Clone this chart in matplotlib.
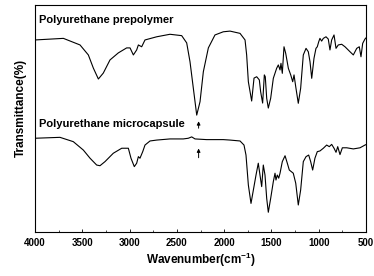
import matplotlib
matplotlib.use("Agg")
import matplotlib.pyplot as plt
from matplotlib.ticker import MultipleLocator

plt.rcParams['font.family'] = ['Liberation Sans', 'DejaVu Sans']
plt.rcParams['mathtext.fontset'] = 'custom'
plt.rcParams['mathtext.rm'] = 'Liberation Sans:bold'
plt.rcParams['mathtext.it'] = 'Liberation Sans:bold'
plt.rcParams['mathtext.bf'] = 'Liberation Sans:bold'

# Polyurethane prepolymer spectrum (wavenumber, transmittance a.u.)
wn_pre = [4000, 3700, 3524, 3436, 3383, 3330, 3278, 3207, 3119, 3031, 2995, 2960, 2925, 2907,
          2872, 2837, 2713, 2573, 2449, 2396, 2361, 2326, 2290, 2255, 2220, 2167, 2097, 2009,
          1938, 1832, 1779, 1762, 1744, 1709, 1684, 1656, 1628, 1614, 1593, 1575, 1565, 1550,
          1533, 1508, 1480, 1445, 1427, 1409, 1399, 1385, 1367, 1349, 1321, 1296, 1275, 1261,
          1243, 1216, 1191, 1163, 1134, 1110, 1092, 1074, 1050, 1029, 1015, 1000, 987, 969,
          951, 923, 899, 881, 863, 838, 817, 793, 757, 722, 669, 634, 598, 571, 553, 535, 511, 500]
t_pre = [84.6, 85.3, 82.4, 78.0, 72.2, 67.4, 70.0, 75.8, 78.9, 81.1, 81.1, 78.0, 80.2, 82.4,
         81.6, 84.6, 86.0, 87.1, 86.5, 83.3, 75.0, 63.4, 51.5, 57.4, 70.6, 81.1, 86.8, 88.2,
         88.5, 87.5, 84.6, 78.0, 66.2, 57.7, 67.8, 68.4, 67.0, 61.8, 56.8, 69.2, 68.4, 58.9,
         54.6, 58.9, 67.7, 72.1, 73.6, 71.4, 74.3, 69.9, 81.6, 78.7, 72.1, 69.2, 66.2, 69.2,
         64.0, 56.7, 63.3, 78.0, 80.9, 79.4, 75.0, 67.7, 76.5, 80.9, 81.6, 83.8, 85.3, 84.1,
         85.3, 86.0, 85.0, 80.2, 84.6, 86.8, 80.9, 82.4, 82.7, 81.6, 79.4, 78.0, 80.9, 81.6,
         77.2, 83.1, 85.0, 85.5]

# Polyurethane microcapsule spectrum
wn_mic = [4000, 3736, 3595, 3489, 3418, 3348, 3313, 3260, 3172, 3083, 3013, 2985, 2950, 2925,
          2907, 2890, 2861, 2837, 2784, 2713, 2573, 2432, 2379, 2343, 2308, 2185, 2009, 1938,
          1832, 1790, 1769, 1744, 1716, 1691, 1663, 1639, 1621, 1603, 1586, 1568, 1550, 1533,
          1508, 1480, 1462, 1452, 1438, 1423, 1409, 1385, 1356, 1332, 1311, 1269, 1243, 1216,
          1191, 1163, 1134, 1106, 1085, 1064, 1040, 1015, 987, 951, 916, 888, 863, 838, 817,
          799, 775, 750, 704, 634, 563, 511, 500]
t_mic = [41.3, 41.7, 39.8, 36.1, 32.5, 29.5, 29.2, 31.0, 34.7, 36.9, 36.9, 32.5, 28.8, 30.3,
         33.2, 32.5, 35.4, 38.3, 40.1, 40.5, 41.0, 41.0, 41.3, 41.9, 41.0, 40.7, 40.7, 40.5,
         40.1, 38.3, 33.9, 20.7, 12.6, 18.5, 25.1, 30.3, 25.1, 20.0, 29.5, 25.1, 14.8, 8.7,
         14.8, 22.2, 25.9, 22.9, 25.1, 23.7, 25.9, 31.0, 33.6, 30.3, 27.3, 25.9, 21.5, 11.9,
         18.5, 31.0, 33.2, 33.9, 31.0, 27.3, 32.5, 35.4, 35.7, 36.9, 38.3, 37.6, 38.6, 36.9, 35.1,
         37.6, 34.1, 37.1, 37.1, 36.6, 37.1, 38.3, 38.5]

labels = ["Polyurethane prepolymer", "Polyurethane microcapsule"]
xticks = [4000, 3500, 3000, 2500, 2000, 1500, 1000, 500]
nco_wn = 2270

fig = plt.figure(figsize=(3.74, 2.76), dpi=100)
ax = fig.add_axes([0.0936, 0.1594, 0.885, 0.8225])
ax.plot(wn_pre, t_pre, color='black', lw=0.8)
ax.plot(wn_mic, t_mic, color='black', lw=0.8)
ax.set_xlim(4000, 500)
ax.set_ylim(0, 100)
ax.set_yticks([])
ax.set_xticks(xticks)
ax.xaxis.set_minor_locator(MultipleLocator(250))
ax.tick_params(axis='x', direction='in', length=2.5, width=0.6, labelsize=7, pad=4)
ax.tick_params(axis='x', which='minor', direction='in', length=1.5, width=0.5)
for lab in ax.get_xticklabels():
    lab.set_fontweight('bold')
for s in ax.spines.values():
    s.set_linewidth(0.8)

ax.text(0.012, 0.934, labels[0], transform=ax.transAxes, fontsize=8,
        fontweight='bold', va='center', ha='left')
ax.text(0.012, 0.475, labels[1], transform=ax.transAxes, fontsize=8,
        fontweight='bold', va='center', ha='left')

# arrows at NCO band
ax.annotate('', xy=(nco_wn, 50.0), xytext=(nco_wn, 44.5),
            arrowprops=dict(arrowstyle='-|>', color='black', lw=0.7, mutation_scale=5))
ax.annotate('', xy=(nco_wn, 38.0), xytext=(nco_wn, 31.5),
            arrowprops=dict(arrowstyle='-|>', color='black', lw=0.7, mutation_scale=5))

ax.set_xlabel(r'Wavenumber(cm$^{-1}$)', fontsize=8.5, fontweight='bold', labelpad=2)
ax.set_ylabel('Transmittance(%)', fontsize=8.5, fontweight='bold')
ax.yaxis.set_label_coords(-0.024, 0.546)

fig.savefig('out.png', dpi=100)
